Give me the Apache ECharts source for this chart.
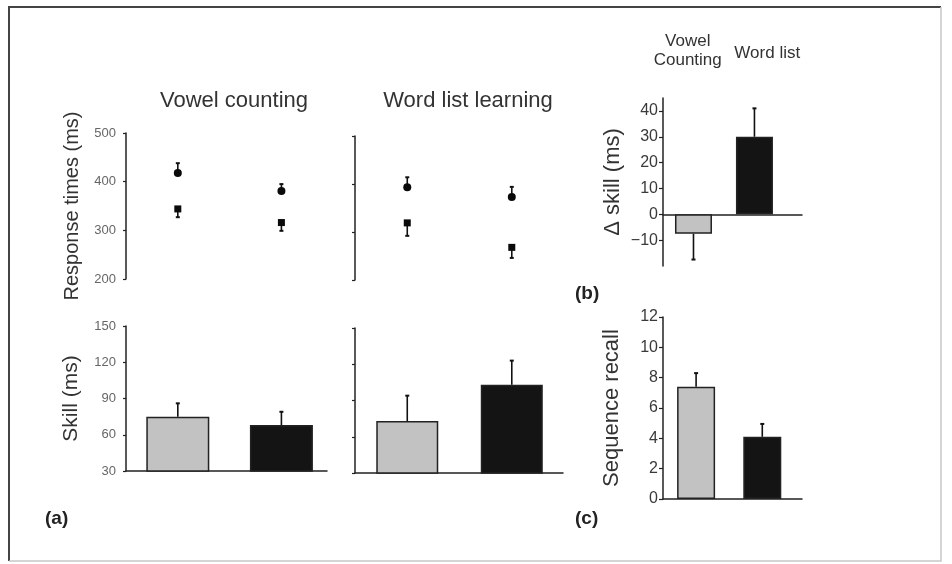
<!DOCTYPE html>
<html><head><meta charset="utf-8">
<script src="https://cdn.jsdelivr.net/npm/echarts@6/dist/echarts.min.js"></script>
<style>html,body{margin:0;padding:0;background:#fff}#c{width:952px;height:564px}</style>
</head><body><div id="c"></div>
<script>
// ---- data ----
const groupTitles = ['Vowel counting', 'Word list learning'];
const conditions = ['Vowel\nCounting', 'Word list'];
const rtVowelCircle = [418, 381];
const rtVowelCircleErr = [20, 14];
const rtVowelSquare = [344, 316];
const rtVowelSquareErr = [17, 17];
const rtWordCircle = [393, 373];
const rtWordCircleErr = [21, 21];
const rtWordSquare = [319, 268];
const rtWordSquareErr = [27, 22];
const skillVowel = [75, 68];
const skillVowelErr = [11, 11];
const skillWord = [73, 103];
const skillWordErr = [21, 20];
const deltaSkill = [-7.5, 30];
const deltaSkillErr = [10, 11];
const seqRecall = [7.4, 4.1];
const seqRecallErr = [0.9, 0.85];
const rtTicks = [200, 300, 400, 500];
const skillTicks = [30, 60, 90, 120, 150];
const deltaTicks = [-10, 0, 10, 20, 30, 40];
const recallTicks = [0, 2, 4, 6, 8, 10, 12];

// ---- styling ----
const FONT = '"Liberation Sans", Arial, sans-serif';
const fills = ['#c2c2c2', '#141414'];
const ink = '#222';

function errSeries(xi, yi, means, errs, dirs) {
  return {
    type: 'custom', xAxisIndex: xi, yAxisIndex: yi, z: 3,
    encode: { x: 0, y: 1 },
    data: means.map((m, i) => [i, m, errs[i], dirs[i]]),
    renderItem: (p, api) => {
      const x = api.value(0), m = api.value(1), e = api.value(2), d = api.value(3);
      const a = api.coord([x, m]);
      const b = api.coord([x, m + d * e]);
      return { type: 'group', children: [
        { type: 'line', shape: { x1: a[0], y1: a[1], x2: b[0], y2: b[1] }, style: { stroke: '#111', lineWidth: 1.6 } },
        { type: 'line', shape: { x1: b[0] - 2, y1: b[1], x2: b[0] + 2, y2: b[1] }, style: { stroke: '#111', lineWidth: 2 } }
      ]};
    }
  };
}
function scatterSeries(xi, yi, means, symbol, size) {
  return { type: 'scatter', xAxisIndex: xi, yAxisIndex: yi, z: 4, symbol: symbol, symbolSize: size,
    itemStyle: { color: '#0a0a0a', opacity: 1 }, data: means.map((m, i) => [i, m]) };
}
function barSeries(xi, yi, vals, width) {
  return { type: 'bar', xAxisIndex: xi, yAxisIndex: yi, barWidth: width, z: 2,
    data: vals.map((v, i) => ({ value: [i, v], itemStyle: { color: fills[i] } })),
    itemStyle: { borderColor: ink, borderWidth: 1.5 } };
}
function hiddenX(grid, max) {
  return { type: 'value', gridIndex: grid, min: -0.5, max: max, show: false };
}
function lineX(grid, max) {
  return { type: 'value', gridIndex: grid, min: -0.5, max: max,
    axisLine: { show: true, onZero: true, lineStyle: { color: ink, width: 1.5 } },
    axisTick: { show: false }, axisLabel: { show: false }, splitLine: { show: false } };
}
function yAx(grid, ticks, opts) {
  const o = Object.assign({
    type: 'value', gridIndex: grid, min: ticks[0], max: ticks[ticks.length - 1], interval: ticks[1] - ticks[0],
    axisLine: { show: true, onZero: false, lineStyle: { color: ink, width: 1.5 } },
    axisTick: { show: true, length: 3, lineStyle: { color: ink, width: 1.2 } },
    splitLine: { show: false },
    axisLabel: { show: false }
  }, opts || {});
  return o;
}
const leftLabel = { show: true, fontSize: 13, color: '#666', margin: 10, fontFamily: FONT };
const rightLabel = { show: true, fontSize: 16, color: '#3a3a3a', margin: 5, fontFamily: FONT,
  formatter: v => String(v).replace('-', '\u2212') };
const nameStyle = (size) => ({ fontSize: size, color: '#333', fontFamily: FONT });

const chart = echarts.init(document.getElementById('c'), null, { renderer: 'canvas' });
chart.setOption({
  animation: false,
  backgroundColor: '#fff',
  textStyle: { fontFamily: FONT },
  grid: [
    { left: 126, top: 133, width: 201, height: 146 },
    { left: 355, top: 136, width: 208, height: 144 },
    { left: 126, top: 326, width: 201, height: 145 },
    { left: 355, top: 328, width: 208, height: 145 },
    { left: 663, top: 98, width: 139, height: 168 },
    { left: 663, top: 317, width: 139, height: 182 }
  ],
  xAxis: [
    hiddenX(0, 1.44),
    hiddenX(1, 1.49),
    lineX(2, 1.44),
    lineX(3, 1.49),
    lineX(4, 1.78),
    lineX(5, 1.6),
    { type: 'category', gridIndex: 4, position: 'top', data: conditions,
      axisLine: { show: false, onZero: false }, axisTick: { show: false }, splitLine: { show: false },
      axisLabel: { show: true, margin: 28, interval: 0,
        formatter: (v, i) => i === 0 ? '{a|Vowel}\n{a|Counting}' : '{b|' + v + '}',
        rich: {
          a: { fontSize: 17, lineHeight: 19, color: '#333', fontFamily: FONT, padding: [0, 20, 0, 0] },
          b: { fontSize: 17, lineHeight: 19, color: '#333', fontFamily: FONT, padding: [0, 0, 14, 0] }
        } } }
  ],
  yAxis: [
    yAx(0, rtTicks, { axisLabel: leftLabel, name: 'Response times (ms)', nameLocation: 'middle', nameGap: 44, nameTextStyle: nameStyle(20) }),
    yAx(1, rtTicks),
    yAx(2, skillTicks, { axisLabel: leftLabel, name: 'Skill (ms)', nameLocation: 'middle', nameGap: 44, nameTextStyle: nameStyle(21) }),
    yAx(3, skillTicks),
    Object.assign(yAx(4, deltaTicks), { min: -20, max: 45, interval: 10,
      axisLabel: Object.assign({ customValues: deltaTicks }, rightLabel),
      axisTick: { show: true, length: 4, customValues: deltaTicks, lineStyle: { color: ink, width: 1.2 } },
      name: '\u0394 skill (ms)', nameLocation: 'middle', nameGap: 39, nameTextStyle: nameStyle(22) }),
    yAx(5, recallTicks, { axisLabel: rightLabel, axisTick: { show: true, length: 4, lineStyle: { color: ink, width: 1.2 } },
      name: 'Sequence recall', nameLocation: 'middle', nameGap: 40, nameTextStyle: nameStyle(22) })
  ],
  series: [
    errSeries(0, 0, rtVowelCircle, rtVowelCircleErr, [1, 1]),
    errSeries(0, 0, rtVowelSquare, rtVowelSquareErr, [-1, -1]),
    scatterSeries(0, 0, rtVowelCircle, 'circle', 8),
    scatterSeries(0, 0, rtVowelSquare, 'rect', 7),
    errSeries(1, 1, rtWordCircle, rtWordCircleErr, [1, 1]),
    errSeries(1, 1, rtWordSquare, rtWordSquareErr, [-1, -1]),
    scatterSeries(1, 1, rtWordCircle, 'circle', 8),
    scatterSeries(1, 1, rtWordSquare, 'rect', 7),
    barSeries(2, 2, skillVowel, 63),
    errSeries(2, 2, skillVowel, skillVowelErr, [1, 1]),
    barSeries(3, 3, skillWord, 62),
    errSeries(3, 3, skillWord, skillWordErr, [1, 1]),
    barSeries(4, 4, deltaSkill, 37),
    errSeries(4, 4, deltaSkill, deltaSkillErr, deltaSkill.map(v => v < 0 ? -1 : 1)),
    barSeries(5, 5, seqRecall, 38),
    errSeries(5, 5, seqRecall, seqRecallErr, [1, 1])
  ],
  graphic: [
    { type: 'polyline', shape: { points: [[9, 561], [9, 7], [941, 7]] }, style: { stroke: '#444', lineWidth: 2, fill: null } },
    { type: 'polyline', shape: { points: [[941, 7], [941, 561], [9, 561]] }, style: { stroke: '#c8c8c8', lineWidth: 1.5, fill: null } },
    { type: 'text', x: 234, y: 101, style: { text: groupTitles[0], font: '22px ' + FONT, fill: '#333', textAlign: 'center', textVerticalAlign: 'middle' } },
    { type: 'text', x: 468, y: 101, style: { text: groupTitles[1], font: '22px ' + FONT, fill: '#333', textAlign: 'center', textVerticalAlign: 'middle' } },
    { type: 'text', x: 45, y: 519, style: { text: '(a)', font: 'bold 19px ' + FONT, fill: '#222', textAlign: 'left', textVerticalAlign: 'middle' } },
    { type: 'text', x: 575, y: 294, style: { text: '(b)', font: 'bold 19px ' + FONT, fill: '#222', textAlign: 'left', textVerticalAlign: 'middle' } },
    { type: 'text', x: 575, y: 519, style: { text: '(c)', font: 'bold 19px ' + FONT, fill: '#222', textAlign: 'left', textVerticalAlign: 'middle' } }
  ]
});
</script></body></html>
